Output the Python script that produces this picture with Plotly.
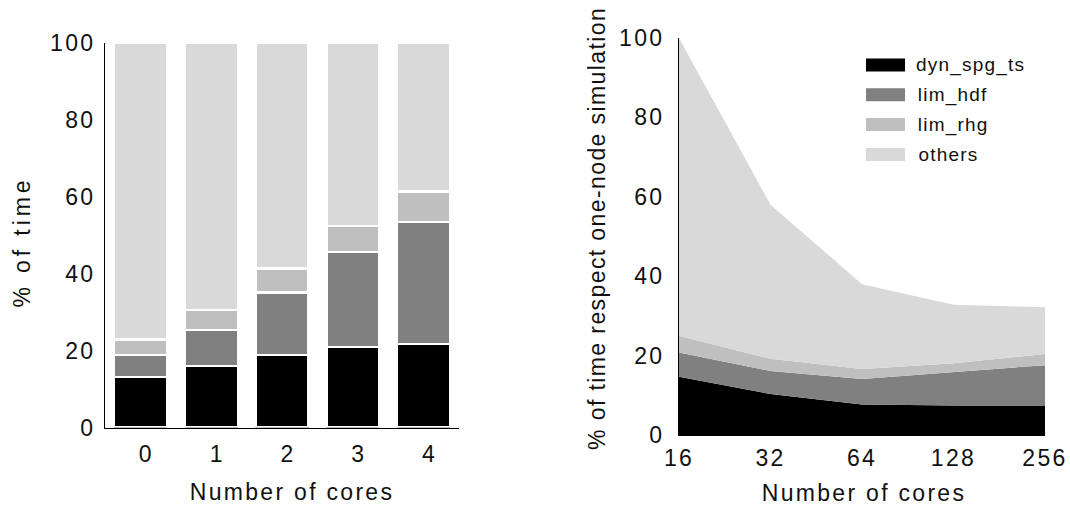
import plotly.graph_objects as go

# ---------------- data ----------------
series_names = ["dyn_spg_ts", "lim_hdf", "lim_rhg", "others"]
series_colors = ["#000000", "#808080", "#bfbfbf", "#d9d9d9"]

# left chart: % of time per number of cores (stacked to 100)
bar_categories = [0, 1, 2, 3, 4]
bar_dyn_spg_ts = [13.2, 16.0, 18.8, 21.0, 21.7]
bar_lim_hdf = [5.6, 9.3, 16.3, 24.7, 31.8]
bar_lim_rhg = [4.1, 5.3, 6.2, 6.7, 7.9]
bar_others = [77.1, 69.4, 58.7, 47.6, 38.6]

# right chart: % of time respect one-node simulation
area_categories = ["16", "32", "64", "128", "256"]
area_dyn_spg_ts = [14.7, 10.3, 7.7, 7.4, 7.4]
area_lim_hdf = [6.1, 5.8, 6.4, 8.4, 10.2]
area_lim_rhg = [4.2, 3.1, 2.5, 2.3, 2.8]
area_others = [75.0, 38.8, 21.4, 14.7, 11.8]

y_ticks = [0, 20, 40, 60, 80, 100]

# ---------------- layout helpers ----------------
W, H = 1070, 506
FONT = "Liberation Sans, Arial, sans-serif"
TXT = "#111111"
FS = 23


def px_x(p):
    return p / W


def px_y(p):
    return 1 - p / H


fig = go.Figure()

bar_series = [bar_dyn_spg_ts, bar_lim_hdf, bar_lim_rhg, bar_others]
for name, color, vals in zip(series_names, series_colors, bar_series):
    fig.add_trace(go.Bar(
        x=bar_categories, y=vals, name=name,
        marker=dict(color=color, line=dict(color="white", width=2.5)),
        xaxis="x", yaxis="y", showlegend=False,
    ))

area_series = [area_dyn_spg_ts, area_lim_hdf, area_lim_rhg, area_others]
for name, color, vals in zip(series_names, series_colors, area_series):
    fig.add_trace(go.Scatter(
        x=area_categories, y=vals, name=name,
        stackgroup="one", mode="lines", line=dict(width=0, color=color),
        fillcolor=color, xaxis="x2", yaxis="y2", showlegend=False,
    ))

axis_common = dict(
    showgrid=False, zeroline=False, showline=True, linecolor="#000000",
    linewidth=1, ticks="", automargin=False,
    tickfont=dict(family=FONT, size=FS, color=TXT),
)

fig.update_layout(
    width=W, height=H,
    margin=dict(l=0, r=0, t=0, b=0, autoexpand=False),
    paper_bgcolor="white", plot_bgcolor="white",
    barmode="stack", bargap=0.25,
    font=dict(family=FONT, size=FS, color=TXT),
    xaxis=dict(axis_common, domain=[px_x(105), px_x(459)], anchor="y",
               type="category", range=[-0.5, 4.5], ticklabelstandoff=6,
               ticklabelshift=6),
    yaxis=dict(axis_common, domain=[px_y(427.5), px_y(43)], anchor="x",
               range=[0, 100], tickvals=y_ticks, ticklabelstandoff=4),
    xaxis2=dict(axis_common, domain=[px_x(679), px_x(1045)], anchor="y2",
                type="category", range=[0, 4], ticklabelstandoff=2),
    yaxis2=dict(axis_common, domain=[px_y(435), px_y(38)], anchor="x2",
                range=[0, 100], tickvals=y_ticks, ticklabelstandoff=9),
    showlegend=False,
)

# axis titles
titles = [
    ("Number of cores", 292, 492, 0),
    ("% of time", 22, 242, -90),
    ("Number of cores", 864, 493, 0),
    ("% of time respect one-node simulation", 597, 229, -90),
]
for text, x, y, ang in titles:
    fig.add_annotation(text=text, x=px_x(x), y=px_y(y), xref="paper", yref="paper",
                       showarrow=False, textangle=ang, xanchor="center", yanchor="middle",
                       font=dict(family=FONT, size=FS, color=TXT))

# custom legend (upper right of right chart)
leg_x0, leg_x1, leg_txt_x = 866, 905, 920
leg_y0, leg_step, sw_h = 65, 29.8, 13
for i, (name, color) in enumerate(zip(series_names, series_colors)):
    cy = leg_y0 + i * leg_step
    fig.add_shape(type="rect", xref="paper", yref="paper",
                  x0=px_x(leg_x0), x1=px_x(leg_x1),
                  y0=px_y(cy + sw_h / 2), y1=px_y(cy - sw_h / 2),
                  fillcolor=color, line=dict(width=0))
    fig.add_annotation(text=name, x=px_x(leg_txt_x), y=px_y(cy), xref="paper", yref="paper",
                       showarrow=False, xanchor="left", yanchor="middle",
                       font=dict(family=FONT, size=19, color=TXT))

legend_names = "|".join(series_names)
post_js = """
(function(){
  var leg = '%s'.split('|');
  var special = {'%% of time': '3.9px', '%% of time respect one-node simulation': '1.4px'};
  document.querySelectorAll('.main-svg text').forEach(function(t){
    var s = t.textContent;
    var ls = '2.3px';
    if (leg.indexOf(s) >= 0) ls = '1.2px';
    if (special[s]) ls = special[s];
    t.style.letterSpacing = ls;
  });
})();
""" % legend_names

fig.write_html("out.html", post_script=post_js)
